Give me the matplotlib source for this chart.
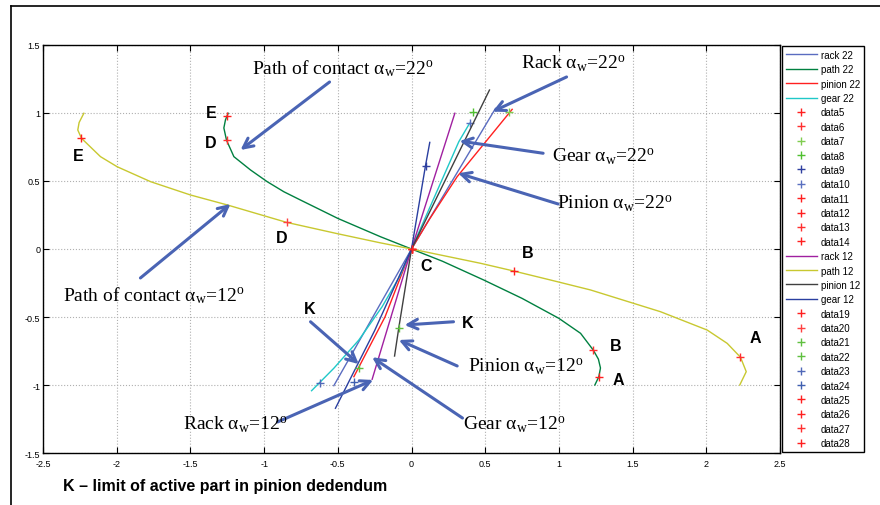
import matplotlib
matplotlib.use('Agg')
import matplotlib.pyplot as plt
from matplotlib.lines import Line2D
import numpy as np

plt.rcParams['font.family'] = ['Liberation Sans', 'DejaVu Sans']
plt.rcParams['mathtext.fontset'] = 'custom'
plt.rcParams['mathtext.rm'] = 'Liberation Serif'
plt.rcParams['mathtext.it'] = 'Liberation Serif:italic'

# path of contact, alpha_w = 22 deg
path22_x = [-1.244, -1.262, -1.273, -1.255, -1.205, -1.092, -0.979, -0.866, -0.753, -0.5, -0.21, 0,
            0.21, 0.49, 0.75, 1.0, 1.147, 1.233, 1.268, 1.282, 1.271, 1.244]
path22_y = [0.998, 0.95, 0.89, 0.80, 0.679, 0.581, 0.495, 0.421, 0.36, 0.225, 0.09, 0,
            -0.09, -0.228, -0.363, -0.51, -0.62, -0.743, -0.81, -0.875, -0.939, -1.0]
# path of contact, alpha_w = 12 deg
path12_x = [-2.223, -2.255, -2.264, -2.239, -2.11, -1.997, -1.77, -1.499, -1.25, -0.848, -0.5, -0.21, 0,
            0.468, 0.694, 0.943, 1.214, 1.689, 2.006, 2.142, 2.232, 2.271, 2.227]
path12_y = [0.998, 0.93, 0.875, 0.814, 0.679, 0.605, 0.495, 0.397, 0.324, 0.196, 0.112, 0.045, 0,
            -0.105, -0.162, -0.228, -0.301, -0.461, -0.596, -0.694, -0.796, -0.902, -1.0]

# tooth profiles through the pitch point C
rack22_x = [-0.527, 0, 0.57]
rack22_y = [-1.005, 0, 1.034]
pinion22_x = [-0.391, -0.18, 0, 0.118, 0.31, 0.683]
pinion22_y = [-0.939, -0.5, 0, 0.213, 0.532, 1.027]
gear22_x = [-0.678, -0.527, -0.357, -0.199, -0.075, 0, 0.321, 0.394]
gear22_y = [-1.042, -0.877, -0.669, -0.424, -0.191, 0, 0.789, 0.924]
rack12_x = [-0.267, 0, 0.294]
rack12_y = [-0.958, 0, 0.998]
pinion12_x = [-0.115, -0.086, 0, 0.529]
pinion12_y = [-0.787, -0.578, 0, 1.169]
gear12_x = [-0.516, -0.25, 0, 0.095, 0.124]
gear12_y = [-1.171, -0.6, 0, 0.613, 0.784]

# marker points (name, x, y, colour)
marks = [
    ('data5', -1.25, 0.978, '#ff2020'), ('data6', -1.255, 0.80, '#ff3030'),
    ('data7', 0.66, 1.01, '#80cc50'), ('data8', 0.418, 1.01, '#50c030'),
    ('data9', 0.095, 0.613, '#3040a0'), ('data10', 0.394, 0.924, '#5a70c0'),
    ('data11', 0, 0, '#ff2020'), ('data12', 0, 0, '#ff2020'),
    ('data13', 1.233, -0.743, '#ff3030'), ('data14', 1.271, -0.939, '#ff2020'),
    ('data19', -2.239, 0.814, '#ff2020'), ('data20', -0.848, 0.196, '#ff4040'),
    ('data21', -0.357, -0.877, '#60c040'), ('data22', -0.086, -0.578, '#60c040'),
    ('data23', -0.624, -0.988, '#5068b8'), ('data24', -0.391, -0.976, '#4060b0'),
    ('data25', 0, 0, '#ff2020'), ('data26', 0.694, -0.162, '#ff2020'),
    ('data27', 2.232, -0.796, '#ff3030'), ('data28', 0, 0, '#ff2020'),
]

fig = plt.figure(figsize=(8.8, 5.06), dpi=100)
ax = fig.add_axes([43 / 880, 1 - 454 / 506, 737 / 880, 408 / 506])

ax.plot(rack22_x, rack22_y, color='#5a6cc0', lw=1, label='rack 22')
ax.plot(path22_x, path22_y, color='#008040', lw=1, label='path 22')
ax.plot(pinion22_x, pinion22_y, color='#ff2020', lw=1, label='pinion 22')
ax.plot(gear22_x, gear22_y, color='#20c8c8', lw=1, label='gear 22')
for name, mx, my, c in marks[:10]:
    ax.plot(mx, my, '+', color=c, ms=6, mew=1, linestyle='none', label=name)
ax.plot(rack12_x, rack12_y, color='#a020a0', lw=1, label='rack 12')
ax.plot(path12_x, path12_y, color='#c8c830', lw=1, label='path 12')
ax.plot(pinion12_x, pinion12_y, color='#404040', lw=1, label='pinion 12')
ax.plot(gear12_x, gear12_y, color='#2a3fa0', lw=1, label='gear 12')
for name, mx, my, c in marks[10:]:
    ax.plot(mx, my, '+', color=c, ms=6, mew=1, linestyle='none', label=name)

ax.set_xlim(-2.5, 2.5)
ax.set_ylim(-1.5, 1.5)
xt = np.arange(-2.5, 2.51, 0.5)
yt = np.arange(-1.5, 1.51, 0.5)
ax.set_xticks(xt)
ax.set_yticks(yt)
ax.set_xticklabels(['%g' % v for v in xt])
ax.set_yticklabels(['%g' % v for v in yt])
ax.tick_params(direction='in', top=True, right=True, labelsize=6.5, length=4)
ax.tick_params(axis='x', pad=4)
ax.tick_params(axis='y', pad=2)
ax.grid(True, color='#b0b0b0', linestyle=':', lw=0.8)
for s in ax.spines.values():
    s.set_linewidth(1)

# arrows
arrow_col = '#4a64b4'
arrows = [
    ((-0.556, 1.228), (-1.16, 0.728)),
    ((-1.839, -0.213), (-1.228, 0.331)),
    ((1.052, 1.265), (0.55, 1.01)),
    ((0.893, 0.704), (0.326, 0.794)),
    ((0.995, 0.331), (0.317, 0.557)),
    ((0.285, -0.535), (-0.047, -0.559)),
    ((0.31, -0.86), (-0.086, -0.669)),
    ((-0.685, -0.535), (-0.358, -0.846)),
    ((0.346, -1.243), (-0.267, -0.796)),
    ((-0.909, -1.272), (-0.26, -0.963)),
]
for tail, head in arrows:
    ax.annotate('', xy=head, xytext=tail,
                arrowprops=dict(arrowstyle='->,head_length=0.7,head_width=0.35',
                                color=arrow_col, lw=2.2, shrinkA=0, shrinkB=0))

serif = dict(family='Liberation Serif', fontsize=14, ha='left', va='center')
ax.text(-1.085, 1.331, r'Path of contact α$_{\rm w}$=22$^{\rm o}$', **serif)
ax.text(-2.361, -0.338, r'Path of contact α$_{\rm w}$=12$^{\rm o}$', **serif)
ax.text(0.746, 1.368, r'Rack α$_{\rm w}$=22$^{\rm o}$', **serif)
ax.text(0.95, 0.684, r'Gear α$_{\rm w}$=22$^{\rm o}$', **serif)
ax.text(0.984, 0.338, r'Pinion α$_{\rm w}$=22$^{\rm o}$', **serif)
ax.text(0.38, -0.86, r'Pinion α$_{\rm w}$=12$^{\rm o}$', **serif)
ax.text(-1.547, -1.287, r'Rack α$_{\rm w}$=12$^{\rm o}$', **serif)
ax.text(0.346, -1.287, r'Gear α$_{\rm w}$=12$^{\rm o}$', **serif)

bold = dict(fontsize=11.5, fontweight='bold', ha='center', va='center')
point_labels = [('E', -1.357, 1.002), ('D', -1.364, 0.785), ('E', -2.264, 0.686),
                ('D', -0.882, 0.088), ('C', 0.102, -0.118), ('B', 0.789, -0.027),
                ('K', -0.69, -0.436), ('K', 0.382, -0.542), ('B', 1.384, -0.706),
                ('A', 1.4, -0.958), ('A', 2.334, -0.652)]
for t, lx, ly in point_labels:
    ax.text(lx, ly, t, **bold)

leg = fig.legend(loc='upper left', bbox_to_anchor=(782 / 880, 1 - 47 / 506), fontsize=7,
                 frameon=True, fancybox=False, edgecolor='black', framealpha=1,
                 handlelength=3.2, labelspacing=0.45, borderpad=0.4, handletextpad=0.4,
                 borderaxespad=0)
leg.get_frame().set_linewidth(1)

fig.text(63 / 880, 1 - 487 / 506, 'K \u2013 limit of active part in pinion dedendum',
         fontsize=11.5, fontweight='bold', ha='left', va='center')

# outer frame
fig.add_artist(Line2D([11 / 880, 11 / 880], [0, 1 - 7 / 506], color='black', lw=1.2))
fig.add_artist(Line2D([11 / 880, 1], [1 - 7 / 506, 1 - 7 / 506], color='black', lw=1.2))

fig.savefig('out.png', dpi=100)
